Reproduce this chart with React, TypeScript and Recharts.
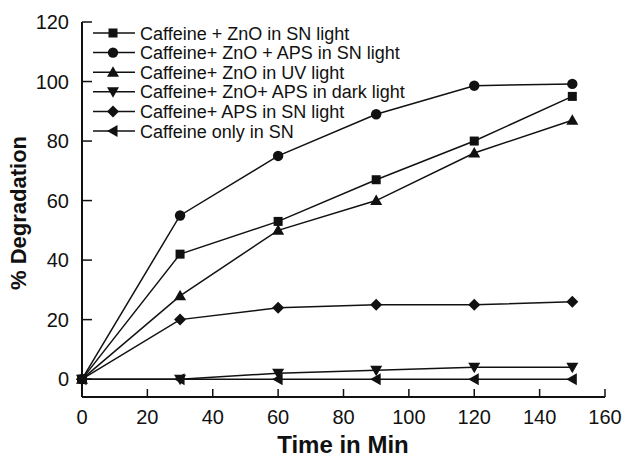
import { LineChart, Line, XAxis, YAxis, Legend } from 'recharts';

const times = [0, 30, 60, 90, 120, 150];
const znoSn = [0, 42, 53, 67, 80, 95];
const znoApsSn = [0, 55, 75, 89, 98.6, 99.2];
const znoUv = [0, 28, 50, 60, 76, 87];
const znoApsDark = [0, 0, 2, 3, 4, 4];
const apsSn = [0, 20, 24, 25, 25, 26];
const caffeineOnly = [0, 0, 0, 0, 0, 0];

const xTicks = [0, 20, 40, 60, 80, 100, 120, 140, 160];
const yTicks = [0, 20, 40, 60, 80, 100, 120];

type Shape = 'square' | 'circle' | 'triUp' | 'triDown' | 'diamond' | 'triLeft';

const series: { key: string; name: string; shape: Shape; values: number[] }[] = [
  { key: 's1', name: 'Caffeine + ZnO in SN light', shape: 'square', values: znoSn },
  { key: 's2', name: 'Caffeine+ ZnO + APS in SN light', shape: 'circle', values: znoApsSn },
  { key: 's3', name: 'Caffeine+ ZnO in UV light', shape: 'triUp', values: znoUv },
  { key: 's4', name: 'Caffeine+ ZnO+ APS in dark light', shape: 'triDown', values: znoApsDark },
  { key: 's5', name: 'Caffeine+ APS in SN light', shape: 'diamond', values: apsSn },
  { key: 's6', name: 'Caffeine only in SN', shape: 'triLeft', values: caffeineOnly },
];

const data = times.map((t, i) => {
  const row: Record<string, number> = { t };
  series.forEach((s) => (row[s.key] = s.values[i]));
  return row;
});

const INK = '#111';
const FONT = '"Liberation Sans", Arial, sans-serif';

function Marker({ shape, cx, cy }: { shape: Shape; cx: number; cy: number }) {
  switch (shape) {
    case 'square':
      return <rect x={cx - 4.5} y={cy - 4.5} width={9} height={9} fill={INK} />;
    case 'circle':
      return <circle cx={cx} cy={cy} r={5.2} fill={INK} />;
    case 'triUp':
      return <polygon points={`${cx - 6},${cy + 4.5} ${cx + 6},${cy + 4.5} ${cx},${cy - 6}`} fill={INK} />;
    case 'triDown':
      return <polygon points={`${cx - 6},${cy - 4.5} ${cx + 6},${cy - 4.5} ${cx},${cy + 6}`} fill={INK} />;
    case 'diamond':
      return <polygon points={`${cx - 6},${cy} ${cx},${cy - 6} ${cx + 6},${cy} ${cx},${cy + 6}`} fill={INK} />;
    default:
      return <polygon points={`${cx - 6},${cy} ${cx + 4.5},${cy - 6} ${cx + 4.5},${cy + 6}`} fill={INK} />;
  }
}

const renderLegend = () => (
  <svg width={330} height={122} style={{ display: 'block' }}>
    {series.map((s, i) => {
      const y = 10 + i * 19.6;
      return (
        <g key={s.key}>
          <line x1={5} x2={47} y1={y} y2={y} stroke={INK} strokeWidth={1.5} />
          <Marker shape={s.shape} cx={25} cy={y} />
          <text x={52} y={y + 6.5} fontFamily={FONT} fontSize={18} fill={INK}>
            {s.name}
          </text>
        </g>
      );
    })}
  </svg>
);

export default function App() {
  return (
    <div style={{ position: 'absolute', left: 0, top: 0, background: '#fff' }}>
      <LineChart width={624} height={464} data={data} margin={{ top: 22, right: 19, left: 0, bottom: 0 }}>
        <XAxis
          dataKey="t"
          type="number"
          domain={[0, 160]}
          ticks={xTicks}
          height={67}
          tickSize={-8}
          tickMargin={21}
          axisLine={{ stroke: INK, strokeWidth: 2 }}
          tickLine={{ stroke: INK, strokeWidth: 1.5 }}
          tick={{ fill: INK, fontSize: 20, fontFamily: FONT }}
          label={{
            content: () => (
              <text x={343} y={453} textAnchor="middle" fontFamily={FONT} fontWeight="bold" fontSize={24} fill={INK}>
                Time in Min
              </text>
            ),
          }}
        />
        <YAxis
          type="number"
          domain={[-6, 120]}
          ticks={yTicks}
          width={82}
          tickSize={-10}
          tickMargin={23}
          axisLine={{ stroke: INK, strokeWidth: 2 }}
          tickLine={{ stroke: INK, strokeWidth: 1.5 }}
          tick={{ fill: INK, fontSize: 20, fontFamily: FONT }}
          label={{
            content: () => (
              <text
                x={26}
                y={213}
                transform="rotate(-90 26 213)"
                textAnchor="middle"
                fontFamily={FONT}
                fontWeight="bold"
                fontSize={22}
                fill={INK}
              >
                % Degradation
              </text>
            ),
          }}
        />
        <Legend
          layout="horizontal"
          verticalAlign="middle"
          align="center"
          content={renderLegend}
          wrapperStyle={{ top: 23, left: 88, width: 330 }}
        />
        {series.map((s) => (
          <Line
            key={s.key}
            dataKey={s.key}
            name={s.name}
            type="linear"
            stroke={INK}
            strokeWidth={1.5}
            isAnimationActive={false}
            dot={(p: any) => <Marker key={`${s.key}-${p.index}`} shape={s.shape} cx={p.cx} cy={p.cy} />}
            activeDot={false}
          />
        ))}
      </LineChart>
    </div>
  );
}
